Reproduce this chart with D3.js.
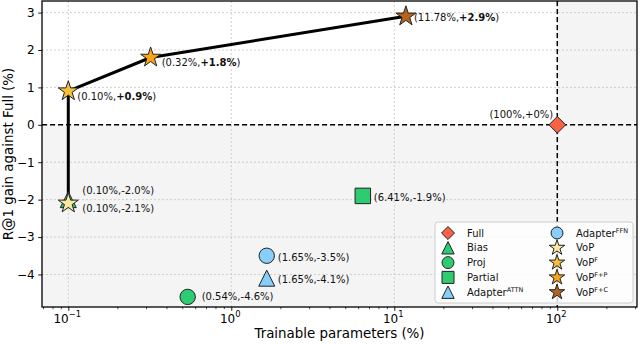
<!DOCTYPE html>
<html>
<head>
<meta charset="utf-8">
<script src="https://cdn.jsdelivr.net/npm/d3@7"></script>
<style>
  body { margin: 0; background: #fff; }
  text { font-family: "DejaVu Sans", sans-serif; }
</style>
</head>
<body>
<div id="chart-container"></div>
<script>
// data
const nameBase = ["Full", "Bias", "Proj", "Partial", "Adapter", "Adapter", "VoP", "VoP", "VoP", "VoP"];
const nameSup = ["", "", "", "", "ATTN", "FFN", "", "F", "F+P", "F+C"];
const params = [100, 0.10, 0.54, 6.41, 1.65, 1.65, 0.10, 0.10, 0.32, 11.78];
const gains = [0, -2.0, -4.6, -1.9, -4.1, -3.5, -2.1, 0.9, 1.8, 2.9];
const labelText = ["(100%,+0%)", "(0.10%,-2.0%)", "(0.54%,-4.6%)", "(6.41%,-1.9%)", "(1.65%,-4.1%)",
  "(1.65%,-3.5%)", "(0.10%,-2.1%)", "(0.10%,+0.9%)", "(0.32%,+1.8%)", "(11.78%,+2.9%)"];
const labelBold = ["", "", "", "", "", "", "", "+0.9%", "+1.8%", "+2.9%"];
const shapes = ["diamond", "triangle", "circle", "square", "triangle", "circle", "star", "star", "star", "star"];
const colors = ["#fa6246", "#2ecc71", "#2ecc71", "#2ecc71", "#87cefa", "#87cefa", "#fde8a2", "#f7bd3c", "#f9a51c", "#b5631e"];
const frontier = [6, 7, 8, 9];
const xTicks = [0.1, 1, 10, 100];
const xTickExp = ["\u22121", "0", "1", "2"];
const yTicks = [-4, -3, -2, -1, 0, 1, 2, 3];

// label placement relative to each point (px): dx, dy, anchor
const labelPos = [
  [-4, -10, "end"], [14, -9, "start"], [14, 0, "start"], [11, 2, "start"], [11, 1.5, "start"],
  [11, 2, "start"], [14, 5.5, "start"], [9, 5, "start"], [11, 4.5, "start"], [8, 1, "start"]
];

const W = 640, H = 344;
const plot = { left: 42, right: 637, top: 1, bottom: 307 };

const x = d3.scaleLog()
  .domain([Math.pow(10, -1.1613), Math.pow(10, 2.489)])
  .range([plot.left, plot.right]);
const y = d3.scaleLinear()
  .domain([-4.87, 3.31])
  .range([plot.bottom, plot.top]);

// matplotlib-like markers
const symTriangle = { draw(ctx, size) { const h = Math.sqrt(size) / 2; ctx.moveTo(0, -h); ctx.lineTo(h, h); ctx.lineTo(-h, h); ctx.closePath(); } };
const symDiamond = { draw(ctx, size) { const h = Math.sqrt(size) / 2; ctx.moveTo(0, -h); ctx.lineTo(h, 0); ctx.lineTo(0, h); ctx.lineTo(-h, 0); ctx.closePath(); } };
const symbolOf = {
  diamond: [symDiamond, 280],
  triangle: [symTriangle, 256],
  circle: [d3.symbolCircle, 186],
  square: [d3.symbolSquare, 240],
  star: [d3.symbolStar, 124]
};
const markerPath = (shape, scale) => d3.symbol().type(symbolOf[shape][0]).size(symbolOf[shape][1] * scale)();

const svg = d3.select("#chart-container").append("svg")
  .attr("width", W).attr("height", H);

svg.append("clipPath").attr("id", "clip")
  .append("rect")
  .attr("x", plot.left).attr("y", plot.top)
  .attr("width", plot.right - plot.left).attr("height", plot.bottom - plot.top);

const bg = svg.append("g").attr("clip-path", "url(#clip)");
// shaded "worse than full" regions
bg.append("rect")
  .attr("x", plot.left).attr("y", y(0))
  .attr("width", plot.right - plot.left).attr("height", plot.bottom - y(0))
  .attr("fill", "#f4f4f4");
bg.append("rect")
  .attr("x", x(100)).attr("y", plot.top)
  .attr("width", plot.right - x(100)).attr("height", y(0) - plot.top)
  .attr("fill", "#f4f4f4");

// grid
bg.selectAll(".gx").data(xTicks).join("line")
  .attr("x1", d => x(d)).attr("x2", d => x(d))
  .attr("y1", plot.top).attr("y2", plot.bottom)
  .attr("stroke", "#c4c4c4").attr("stroke-width", 0.8).attr("stroke-dasharray", "2,2");
bg.selectAll(".gy").data(yTicks).join("line")
  .attr("x1", plot.left).attr("x2", plot.right)
  .attr("y1", d => y(d)).attr("y2", d => y(d))
  .attr("stroke", "#c4c4c4").attr("stroke-width", 0.8).attr("stroke-dasharray", "2,2");

// reference lines through Full
bg.append("line")
  .attr("x1", plot.left).attr("x2", plot.right)
  .attr("y1", y(0)).attr("y2", y(0))
  .attr("stroke", "#000").attr("stroke-width", 1.5).attr("stroke-dasharray", "5,3");
bg.append("line")
  .attr("x1", x(100)).attr("x2", x(100))
  .attr("y1", plot.top).attr("y2", plot.bottom)
  .attr("stroke", "#000").attr("stroke-width", 1.5).attr("stroke-dasharray", "5,3");

// VoP frontier line
const line = d3.line().x(i => x(params[i])).y(i => y(gains[i]));
bg.append("path")
  .datum(frontier)
  .attr("fill", "none")
  .attr("stroke", "#000")
  .attr("stroke-width", 3)
  .attr("stroke-linejoin", "round")
  .attr("d", line);

// markers
const idx = d3.range(params.length);
bg.selectAll(".mark").data(idx).join("path")
  .attr("transform", i => `translate(${x(params[i])},${y(gains[i])})`)
  .attr("d", i => markerPath(shapes[i], 1))
  .attr("fill", i => colors[i])
  .attr("stroke", "#222")
  .attr("stroke-width", 1);

// point labels
const labels = svg.append("g").attr("font-size", 10).attr("fill", "#111");
idx.forEach(i => {
  const t = labels.append("text")
    .attr("x", x(params[i]) + labelPos[i][0])
    .attr("y", y(gains[i]) + labelPos[i][1])
    .attr("dy", "0.36em")
    .attr("text-anchor", labelPos[i][2]);
  const s = labelText[i], b = labelBold[i];
  if (b) {
    const k = s.indexOf(b);
    t.append("tspan").text(s.slice(0, k));
    t.append("tspan").attr("font-weight", "bold").text(b);
    t.append("tspan").text(s.slice(k + b.length));
  } else {
    t.text(s);
  }
});

// axes
const minor = [];
[-2, -1, 0, 1, 2].forEach(e => d3.range(2, 10).forEach(m => {
  const v = m * Math.pow(10, e);
  if (v > x.domain()[0] && v < x.domain()[1]) minor.push(v);
}));
svg.append("g")
  .attr("transform", `translate(0,${plot.bottom})`)
  .call(d3.axisBottom(x).tickValues(minor).tickFormat("").tickSize(2.2))
  .call(g => g.select(".domain").remove())
  .call(g => g.selectAll("line").attr("stroke-width", 0.7));
svg.append("g")
  .attr("transform", `translate(0,${plot.bottom})`)
  .call(d3.axisBottom(x).tickValues(xTicks).tickFormat("").tickSize(3.8))
  .call(g => g.select(".domain").remove())
  .call(g => g.selectAll("line").attr("stroke-width", 0.9));

const xl = svg.append("g").attr("font-size", 12).attr("fill", "#000");
xTicks.forEach((v, k) => {
  const t = xl.append("text").attr("x", x(v) - 1).attr("y", 322.5).attr("text-anchor", "middle");
  t.append("tspan").text("10");
  t.append("tspan").attr("font-size", 8.4).attr("dy", -5.5).text(xTickExp[k]);
});

svg.append("g")
  .attr("transform", `translate(${plot.left},0)`)
  .call(d3.axisLeft(y).tickValues(yTicks).tickSize(3.8).tickPadding(3.5)
    .tickFormat(d => d < 0 ? "\u2212" + Math.abs(d) : String(d)))
  .call(g => g.select(".domain").remove())
  .call(g => g.selectAll("line").attr("stroke-width", 0.9))
  .call(g => g.selectAll("text").attr("font-size", 12).attr("font-family", "DejaVu Sans, sans-serif").attr("fill", "#000"));

// frame
svg.append("rect")
  .attr("x", plot.left).attr("y", plot.top)
  .attr("width", plot.right - plot.left).attr("height", plot.bottom - plot.top)
  .attr("fill", "none").attr("stroke", "#000").attr("stroke-width", 1.3);

// axis titles
svg.append("text")
  .attr("x", (plot.left + plot.right) / 2).attr("y", 338)
  .attr("text-anchor", "middle").attr("font-size", 13.4)
  .text("Trainable parameters (%)");
svg.append("text")
  .attr("transform", `translate(13,${(plot.top + plot.bottom) / 2}) rotate(-90)`)
  .attr("text-anchor", "middle").attr("font-size", 13.4)
  .text("R@1 gain against Full (%)");

// legend
const lg = svg.append("g");
lg.append("rect")
  .attr("x", 435).attr("y", 222).attr("width", 198).attr("height", 81).attr("rx", 3)
  .attr("fill", "#fff").attr("fill-opacity", 0.8)
  .attr("stroke", "#cccccc").attr("stroke-width", 1);
idx.forEach(i => {
  const col = i < 5 ? 0 : 1, row = i % 5;
  const gx = col ? 557 : 448, gy = 233 + row * 14.8;
  lg.append("path")
    .attr("transform", `translate(${gx},${gy})`)
    .attr("d", markerPath(shapes[i], 0.6))
    .attr("fill", colors[i]).attr("stroke", "#222").attr("stroke-width", 1);
  const t = lg.append("text")
    .attr("x", gx + 19).attr("y", gy).attr("dy", "0.36em")
    .attr("font-size", 10).attr("fill", "#111");
  t.append("tspan").text(nameBase[i]);
  if (nameSup[i]) t.append("tspan").attr("font-size", 6.5).attr("dy", -4).text(nameSup[i]);
});
</script>
</body>
</html>
